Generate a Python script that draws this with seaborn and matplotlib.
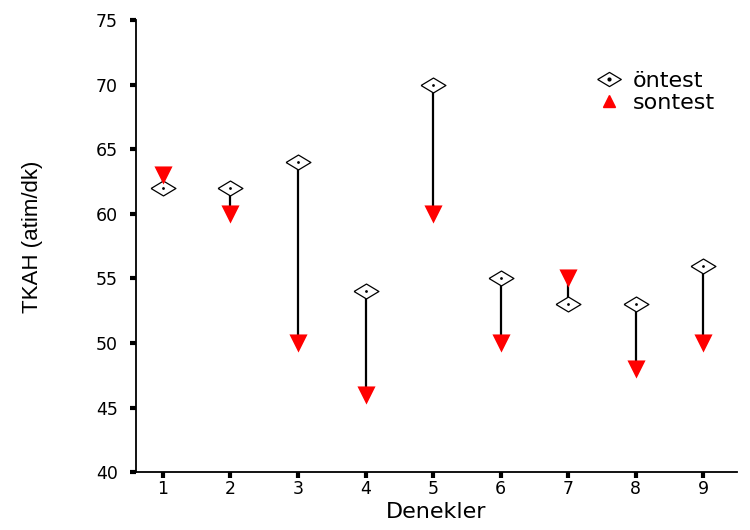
import matplotlib
matplotlib.use("Agg")
import matplotlib.pyplot as plt
import seaborn as sns
import pandas as pd
from matplotlib.lines import Line2D

subjects = [1, 2, 3, 4, 5, 6, 7, 8, 9]
ontest = [62, 62, 64, 54, 70, 55, 53, 53, 56]
sontest = [63, 60, 50, 46, 60, 50, 55, 48, 50]
yticks = [40, 45, 50, 55, 60, 65, 70, 75]

df = pd.DataFrame({"Denek": subjects, "öntest": ontest, "sontest": sontest})

sns.set_style("white")
plt.rcParams['font.family'] = ['DejaVu Sans']
plt.rcParams['text.color'] = 'black'
plt.rcParams['axes.labelcolor'] = 'black'

fig = plt.figure(figsize=(7.5, 5.3), dpi=100)
ax = fig.add_axes([0.181, 0.109, 0.802, 0.853])

ax.vlines(df["Denek"], df["öntest"], df["sontest"], color="black", linewidth=1.6, zorder=1)

diamond = [(-1, 0), (0, 0.6), (1, 0), (0, -0.6), (-1, 0)]
sns.scatterplot(data=df, x="Denek", y="öntest", marker=diamond, s=320,
                facecolor="white", edgecolor="black", linewidth=0.9, ax=ax, zorder=2)
sns.scatterplot(data=df, x="Denek", y="öntest", marker="o", s=4,
                color="black", linewidth=0, ax=ax, zorder=3)
sns.scatterplot(data=df, x="Denek", y="sontest", marker="v", s=170,
                color="red", linewidth=0, ax=ax, zorder=4)

ax.set_xlim(0.6, 9.5)
ax.set_ylim(40, 75)
ax.set_xticks(subjects)
ax.set_yticks(yticks)
ax.tick_params(axis="both", direction="out", length=4, width=3, labelsize=12.5,
               color="black", labelcolor="black", left=True, bottom=True)
ax.tick_params(axis="y", pad=9)
ax.tick_params(axis="x", pad=1.5)
for s in ["top", "right"]:
    ax.spines[s].set_visible(False)
for s in ["left", "bottom"]:
    ax.spines[s].set_color("black")
    ax.spines[s].set_linewidth(1.3)

ax.set_xlabel("Denekler", fontsize=16)
ax.xaxis.set_label_coords(0.5, -0.065)
ax.set_ylabel("TKAH (atim/dk)", fontsize=16,
              family=['Liberation Sans Narrow', 'DejaVu Sans Condensed', 'Liberation Sans'])
ax.yaxis.set_label_coords(-0.155, 0.52)

h1 = Line2D([], [], marker=diamond, markersize=17, markerfacecolor="white",
            markeredgecolor="black", markeredgewidth=0.9, linestyle="none")
h1d = Line2D([], [], marker="o", markersize=2, color="black", linestyle="none")
h2 = Line2D([], [], marker="^", markersize=9, color="red", linestyle="none")
fig.legend([(h1, h1d), h2], ["öntest", "sontest"], loc="upper left",
           bbox_to_anchor=(0.793, 0.866), frameon=False, fontsize=16,
           handlelength=1.3, handletextpad=0.4, labelspacing=0.1, borderpad=0,
           borderaxespad=0)

fig.savefig("out.png", dpi=100)
